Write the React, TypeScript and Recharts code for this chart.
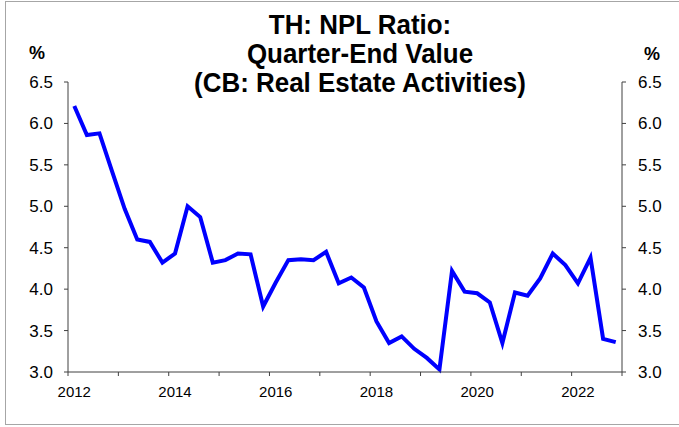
import React from 'react';
import { LineChart, Line, XAxis, YAxis } from 'recharts';

// quarter-end NPL ratio, real estate activities, 2012Q1 .. 2022Q4
const firstYear = 2012;
const nplValues = [
    6.21, 5.86, 5.88, 5.42, 4.97, 4.60, 4.57, 4.32, 4.43, 5.00, 4.87, 4.32,
    4.35, 4.43, 4.42, 3.79, 4.08, 4.35, 4.36, 4.35, 4.45, 4.07, 4.14, 4.02,
    3.61, 3.35, 3.43, 3.28, 3.17, 3.03, 4.22, 3.97, 3.95, 3.84, 3.35, 3.96,
    3.92, 4.13, 4.43, 4.29, 4.07, 4.38, 3.40, 3.36,
];
const yearLabels = ['2012', '2014', '2016', '2018', '2020', '2022'];
const yTicks = [3.0, 3.5, 4.0, 4.5, 5.0, 5.5, 6.0, 6.5];

const data = nplValues.map((v, i) => ({
    idx: i,
    quarter: `${firstYear + Math.floor(i / 4)}Q${(i % 4) + 1}`,
    npl: v,
}));

// tick marks sit between years (every 4th quarter boundary)
const boundaryTicks = Array.from({ length: nplValues.length / 4 + 1 }, (_, k) => k * 4 - 0.5);

const W = 679;
const H = 427;
const PLOT_W = 554;
const BAND = PLOT_W / nplValues.length;
const FONT = '"Liberation Sans", Arial, sans-serif';

const YearTick = (props: any) => {
    const { x, y, payload } = props;
    const year = String(firstYear + (payload.value + 0.5) / 4);
    if (!yearLabels.includes(year)) return null;
    return (
        <text x={x + BAND / 2} y={y + 19} textAnchor="middle" fontSize={15} fill="#000" fontFamily={FONT}>
            {year}
        </text>
    );
};

const App: React.FC = () => {
    return (
        <div style={{ position: 'absolute', left: 0, top: 0, width: W, height: H, background: '#fff', fontFamily: FONT }}>
            <div style={{
                position: 'absolute', left: 5, top: 1, width: W, height: 424,
                border: '1px solid #a6a6a6', boxSizing: 'border-box',
            }} />
            <div style={{
                position: 'absolute', left: 110, width: 500, top: 11, textAlign: 'center',
                fontSize: 27, fontWeight: 700, lineHeight: '29.2px', color: '#000',
                transform: 'scaleX(0.96)', transformOrigin: '250px 0',
            }}>
                <div>TH: NPL Ratio:</div>
                <div>Quarter-End Value</div>
                <div>(CB: Real Estate Activities)</div>
            </div>
            <div style={{ position: 'absolute', left: 29, top: 43, fontSize: 18, fontWeight: 700 }}>%</div>
            <div style={{ position: 'absolute', left: 644, top: 44, fontSize: 18, fontWeight: 700 }}>%</div>

            <div style={{ position: 'absolute', left: 0, top: 0 }}>
                <LineChart
                    width={W}
                    height={H}
                    data={data}
                    margin={{ top: 82, right: 7, left: 8, bottom: 25 }}
                >
                    <XAxis
                        dataKey="idx"
                        type="number"
                        domain={[-0.5, nplValues.length - 0.5]}
                        ticks={boundaryTicks}
                        interval={0}
                        height={30}
                        tick={<YearTick />}
                        tickSize={4}
                        axisLine={{ stroke: '#404040', strokeWidth: 1 }}
                        tickLine={{ stroke: '#404040', strokeWidth: 1 }}
                    />
                    <YAxis
                        yAxisId="left"
                        width={60}
                        domain={[3, 6.5]}
                        ticks={yTicks}
                        interval={0}
                        tickFormatter={(v: number) => v.toFixed(1)}
                        tick={{ fontSize: 17, fill: '#000', fontFamily: FONT }}
                        tickSize={4}
                        tickMargin={11}
                        axisLine={{ stroke: '#404040', strokeWidth: 1 }}
                        tickLine={{ stroke: '#404040', strokeWidth: 1 }}
                    />
                    <YAxis
                        yAxisId="right"
                        orientation="right"
                        width={50}
                        domain={[3, 6.5]}
                        allowDataOverflow
                        ticks={yTicks}
                        interval={0}
                        tickFormatter={(v: number) => v.toFixed(1)}
                        tick={{ fontSize: 17, fill: '#000', fontFamily: FONT }}
                        tickSize={4}
                        tickMargin={12}
                        axisLine={{ stroke: '#404040', strokeWidth: 1 }}
                        tickLine={{ stroke: '#404040', strokeWidth: 1 }}
                    />
                    <Line
                        yAxisId="left"
                        type="linear"
                        dataKey="npl"
                        stroke="#0000ff"
                        strokeWidth={4}
                        dot={false}
                        strokeLinejoin="miter"
                        isAnimationActive={false}
                    />
                </LineChart>
            </div>
        </div>
    );
};

export default App;
